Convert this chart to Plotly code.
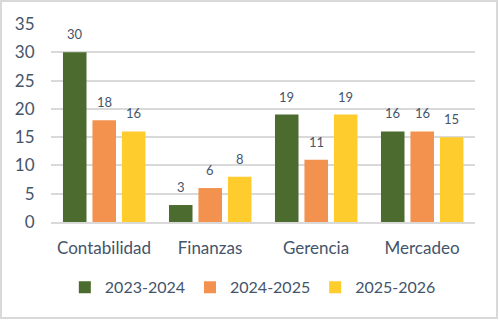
import plotly.graph_objects as go

categories = ["Contabilidad", "Finanzas", "Gerencia", "Mercadeo"]
series_names = ["2023-2024", "2024-2025", "2025-2026"]
v2023 = [30, 3, 19, 16]
v2024 = [18, 6, 11, 16]
v2025 = [16, 8, 19, 15]
colors = ["#4B6C2E", "#F3914F", "#FECC2C"]

txt = "#44546A"
font = "Lato"
bar_w = 0.222
offsets = [-0.387, -0.109, 0.169]

fig = go.Figure()
for name, vals, c, off in zip(series_names, [v2023, v2024, v2025], colors, offsets):
    fig.add_trace(go.Bar(
        x=categories, y=vals, name=name,
        marker=dict(color=c, line=dict(width=0)),
        width=bar_w, offset=off,
    ))
    for i, v in enumerate(vals):
        fig.add_annotation(x=i + off + bar_w / 2, y=v, text=str(v), showarrow=False,
                           xref="x", yref="y", yanchor="middle", yshift=18,
                           font=dict(size=13, color=txt, family=font))

fig.update_layout(
    width=499, height=320,
    margin=dict(l=51, r=24, t=24, b=98),
    paper_bgcolor="white", plot_bgcolor="white",
    barmode="overlay",
    font=dict(family=font, color=txt, size=16),
    showlegend=True,
    legend=dict(orientation="h", x=0.476, xanchor="center", y=-0.33, yanchor="middle",
                font=dict(size=16, color=txt, family=font), itemwidth=30,
                traceorder="normal"),
)
fig.update_yaxes(range=[0, 35], dtick=5, showgrid=True, gridcolor="#D9D9D9", gridwidth=2,
                 zeroline=False, showline=False, ticks="outside", ticklen=12,
                 tickcolor="rgba(0,0,0,0)", tickfont=dict(size=17, color=txt, family=font))
fig.update_xaxes(range=[-0.5, 3.5], showline=True, linecolor="#D9D9D9", linewidth=2,
                 ticks="outside", ticklen=10,
                 tickcolor="rgba(0,0,0,0)", tickfont=dict(size=17, color=txt, family=font))
fig.add_shape(type="rect", xref="paper", yref="paper",
              x0=-50/424, x1=(497-51)/424, y0=-(318-222)/198, y1=(222-1)/198,
              line=dict(color="#D9D9D9", width=2), fillcolor="rgba(0,0,0,0)", layer="below")

fig.write_html("out.html")
